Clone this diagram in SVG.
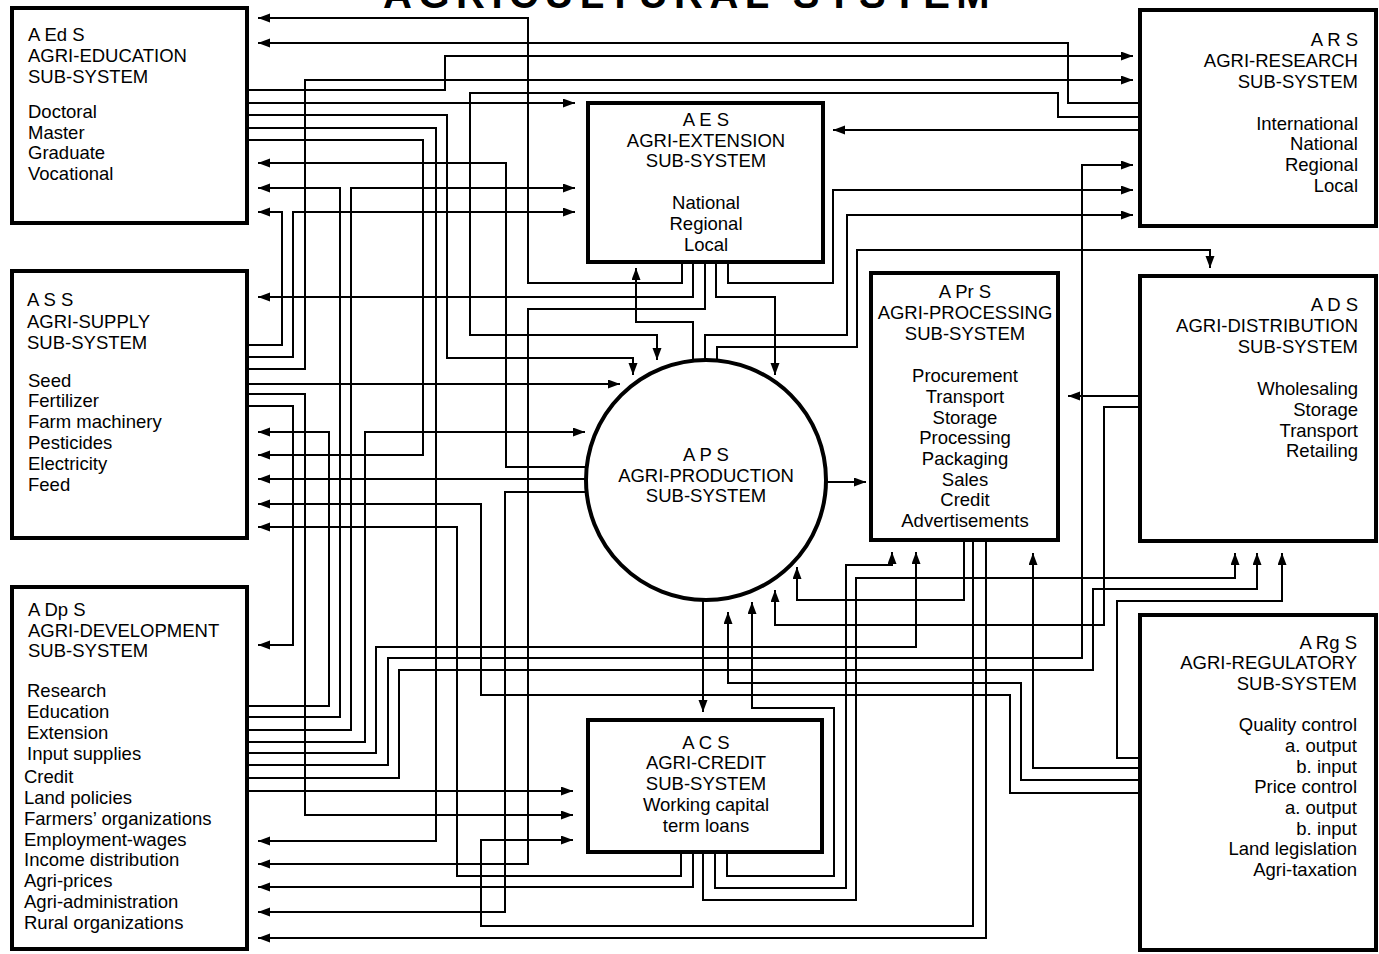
<svg xmlns="http://www.w3.org/2000/svg" width="1379" height="954" viewBox="0 0 1379 954">
<style>
text{font-family:"Liberation Sans",Arial,sans-serif;font-size:18.5px;fill:#000}
.t{font-weight:bold;font-size:40px;letter-spacing:6.5px}
.box{fill:#fff;stroke:#000;stroke-width:4}
.c{fill:none;stroke:#000;stroke-width:2;marker-end:url(#ah)}
.m{text-anchor:middle}
.e{text-anchor:end}
</style>
<defs>
<marker id="ah" markerUnits="userSpaceOnUse" markerWidth="13" markerHeight="10" refX="12" refY="4.5" orient="auto">
<path d="M0,0 L12,4.5 L0,9 z" fill="#000"/>
</marker>
</defs>
<rect width="1379" height="954" fill="#fff"/>
<text class="t" x="383" y="8">AGRICULTURAL SYSTEM</text>
<g id="connectors">
<path class="c" d="M682,262 V283 H528 V18 H258"/>
<path class="c" d="M693,262 V297 H258"/>
<path class="c" d="M705,262 V309 H528 V864 H258"/>
<path class="c" d="M716,262 V297 H775 V375"/>
<path class="c" d="M728,262 V283 H833 V190 H1133"/>
<path class="c" d="M693,360 V322 H636 V268"/>
<path class="c" d="M705,360 V335 H847 V215 H1133"/>
<path class="c" d="M717,360 V347 H857 V250 H1210 V268"/>
<path class="c" d="M1140,103 H1068 V43 H258"/>
<path class="c" d="M1140,117 H1058 V93 H470 V335 H657 V360"/>
<path class="c" d="M1140,130 H833"/>
<path class="c" d="M246,90 H445 V56 H1133"/>
<path class="c" d="M246,103 H575"/>
<path class="c" d="M246,115 H447 V358 H633 V375"/>
<path class="c" d="M246,128 H436 V841 H258"/>
<path class="c" d="M246,140 H423 V455 H258"/>
<path class="c" d="M587,467 H506 V163 H258"/>
<path class="c" d="M246,717 H340 V188 H258"/>
<path class="c" d="M246,730 H351 V188 H575"/>
<path class="c" d="M246,345 H282 V212 H258"/>
<path class="c" d="M246,357 H293 V212 H575"/>
<path class="c" d="M246,369 H305 V80 H1133"/>
<path class="c" d="M246,384 H620"/>
<path class="c" d="M246,394 H305 V815 H573"/>
<path class="c" d="M246,406 H293 V645 H258"/>
<path class="c" d="M246,706 H329 V432 H258"/>
<path class="c" d="M246,742 H365 V432 H585"/>
<path class="c" d="M586,479 H258"/>
<path class="c" d="M1140,793 H1010 V695 H481 V504 H258"/>
<path class="c" d="M681,852 V876 H457 V527 H258"/>
<path class="c" d="M587,492 H505 V912 H258"/>
<path class="c" d="M246,753 H376 V647 H916 V552"/>
<path class="c" d="M246,765 H388 V658 H1082 V165 H1133"/>
<path class="c" d="M246,778 H399 V670 H1093 V589 H1257 V553"/>
<path class="c" d="M246,791 H573"/>
<path class="c" d="M973,540 V926 H481 V840 H573"/>
<path class="c" d="M986,540 V938 H258"/>
<path class="c" d="M693,852 V887 H258"/>
<path class="c" d="M964,540 V600 H797 V567"/>
<path class="c" d="M727,852 V876 H834 V708 H752 V602"/>
<path class="c" d="M715,852 V888 H846 V565 H892 V552"/>
<path class="c" d="M703,852 V900 H856 V578 H1235 V553"/>
<path class="c" d="M703,600 V712"/>
<path class="c" d="M1140,780 H1021 V683 H728 V612"/>
<path class="c" d="M1140,407 H1104 V625 H775 V590"/>
<path class="c" d="M1140,396 H1068"/>
<path class="c" d="M1140,758 H1117 V601 H1282 V553"/>
<path class="c" d="M1140,768 H1033 V553"/>
<path class="c" d="M826,482 H866"/>
</g>
<g id="AEdS">
<rect class="box" x="12" y="8" width="235" height="215"/>
<text x="28" y="41">A Ed S</text>
<text x="28" y="62">AGRI-EDUCATION</text>
<text x="28" y="83">SUB-SYSTEM</text>
<text x="28" y="118">Doctoral</text>
<text x="28" y="139">Master</text>
<text x="28" y="159">Graduate</text>
<text x="28" y="180">Vocational</text>
</g>
<g id="ASS">
<rect class="box" x="12" y="271" width="235" height="267"/>
<text x="27" y="306">A S S</text>
<text x="27" y="328">AGRI-SUPPLY</text>
<text x="27" y="349">SUB-SYSTEM</text>
<text x="28" y="387">Seed</text>
<text x="28" y="407">Fertilizer</text>
<text x="28" y="428">Farm machinery</text>
<text x="28" y="449">Pesticides</text>
<text x="28" y="470">Electricity</text>
<text x="28" y="491">Feed</text>
</g>
<g id="ADpS">
<rect class="box" x="12" y="587" width="235" height="362"/>
<text x="28" y="616">A Dp S</text>
<text x="28" y="637">AGRI-DEVELOPMENT</text>
<text x="28" y="657">SUB-SYSTEM</text>
<text x="27" y="697">Research</text>
<text x="27" y="718">Education</text>
<text x="27" y="739">Extension</text>
<text x="27" y="760">Input supplies</text>
<text x="24" y="783">Credit</text>
<text x="24" y="804">Land policies</text>
<text x="24" y="825">Farmers’ organizations</text>
<text x="24" y="846">Employment-wages</text>
<text x="24" y="866">Income distribution</text>
<text x="24" y="887">Agri-prices</text>
<text x="24" y="908">Agri-administration</text>
<text x="24" y="929">Rural organizations</text>
</g>
<g id="AES">
<rect class="box" x="588" y="103" width="235" height="159"/>
<text class="m" x="706" y="126">A E S</text>
<text class="m" x="706" y="147">AGRI-EXTENSION</text>
<text class="m" x="706" y="167">SUB-SYSTEM</text>
<text class="m" x="706" y="209">National</text>
<text class="m" x="706" y="230">Regional</text>
<text class="m" x="706" y="251">Local</text>
</g>
<g id="APS">
<circle cx="706" cy="480" r="120" fill="#fff" stroke="#000" stroke-width="4"/>
<text class="m" x="706" y="461">A P S</text>
<text class="m" x="706" y="482">AGRI-PRODUCTION</text>
<text class="m" x="706" y="502">SUB-SYSTEM</text>
</g>
<g id="APrS">
<rect class="box" x="871" y="273" width="187" height="267"/>
<text class="m" x="965" y="298">A Pr S</text>
<text class="m" x="965" y="319">AGRI-PROCESSING</text>
<text class="m" x="965" y="340">SUB-SYSTEM</text>
<text class="m" x="965" y="382">Procurement</text>
<text class="m" x="965" y="403">Transport</text>
<text class="m" x="965" y="424">Storage</text>
<text class="m" x="965" y="444">Processing</text>
<text class="m" x="965" y="465">Packaging</text>
<text class="m" x="965" y="486">Sales</text>
<text class="m" x="965" y="506">Credit</text>
<text class="m" x="965" y="527">Advertisements</text>
</g>
<g id="ARS">
<rect class="box" x="1140" y="10" width="236" height="216"/>
<text class="e" x="1358" y="46">A R S</text>
<text class="e" x="1358" y="67">AGRI-RESEARCH</text>
<text class="e" x="1358" y="88">SUB-SYSTEM</text>
<text class="e" x="1358" y="130">International</text>
<text class="e" x="1358" y="150">National</text>
<text class="e" x="1358" y="171">Regional</text>
<text class="e" x="1358" y="192">Local</text>
</g>
<g id="ADS">
<rect class="box" x="1140" y="276" width="236" height="265"/>
<text class="e" x="1358" y="311">A D S</text>
<text class="e" x="1358" y="332">AGRI-DISTRIBUTION</text>
<text class="e" x="1358" y="353">SUB-SYSTEM</text>
<text class="e" x="1358" y="395">Wholesaling</text>
<text class="e" x="1358" y="416">Storage</text>
<text class="e" x="1358" y="437">Transport</text>
<text class="e" x="1358" y="457">Retailing</text>
</g>
<g id="ARgS">
<rect class="box" x="1140" y="615" width="236" height="335"/>
<text class="e" x="1357" y="649">A Rg S</text>
<text class="e" x="1357" y="669">AGRI-REGULATORY</text>
<text class="e" x="1357" y="690">SUB-SYSTEM</text>
<text class="e" x="1357" y="731">Quality control</text>
<text class="e" x="1357" y="752">a. output</text>
<text class="e" x="1357" y="773">b. input</text>
<text class="e" x="1357" y="793">Price control</text>
<text class="e" x="1357" y="814">a. output</text>
<text class="e" x="1357" y="835">b. input</text>
<text class="e" x="1357" y="855">Land legislation</text>
<text class="e" x="1357" y="876">Agri-taxation</text>
</g>
<g id="ACS">
<rect class="box" x="588" y="720" width="234" height="132"/>
<text class="m" x="706" y="749">A C S</text>
<text class="m" x="706" y="769">AGRI-CREDIT</text>
<text class="m" x="706" y="790">SUB-SYSTEM</text>
<text class="m" x="706" y="811">Working capital</text>
<text class="m" x="706" y="832">term loans</text>
</g>
</svg>
